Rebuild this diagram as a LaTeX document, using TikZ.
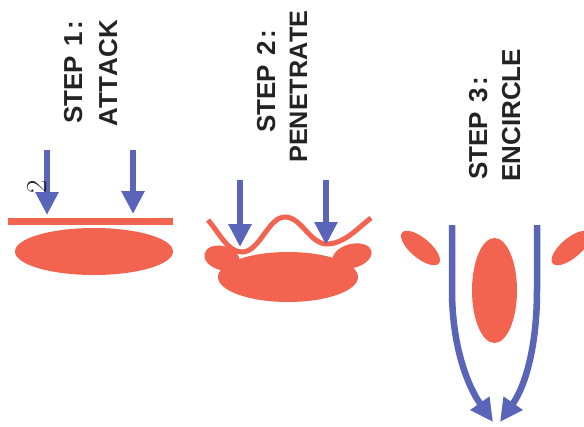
\documentclass[tikz,border=0pt]{standalone}
\usepackage{fontspec}
\setmainfont[Kerning=Off]{Liberation Sans}
\newfontfamily\handfont{Latin Modern Roman}
\usetikzlibrary{arrows.meta}
\definecolor{tissue}{RGB}{242,100,80}
\definecolor{force}{RGB}{90,100,184}
\definecolor{ink}{RGB}{35,35,35}
\newcommand{\stepword}[1]{STEP\kern2pt\ #1\kern3pt:}
\tikzset{
  lab/.style={rotate=90, anchor=base west, inner sep=0pt, text=ink,
    font=\fontsize{26}{30}\selectfont\bfseries},
  push/.style={draw=force, line width=6.5pt,
    -{Triangle[length=23pt,width=22pt]}},
  film/.style={draw=tissue, line width=6pt},
  body/.style={fill=tissue}
}
\begin{document}
\begin{tikzpicture}[x=1pt,y=-1pt]
\useasboundingbox (0,0) rectangle (584,426);
% ---------- step 1 ----------
\node[lab] (s1a) at (82,124) {\stepword{1}};
\node[lab] (s1b) at (117,127) {ATTACK};
\fill[body] (94,251.5) ellipse [x radius=79, y radius=23.5];
\coordinate (f1l) at (8,221.5);
\coordinate (f1r) at (173,221.5);
\draw[film, line width=7pt] (f1l) -- (f1r);
\coordinate (a1s) at (47,150);
\coordinate (a1e) at (47,215);
\coordinate (b1s) at (133,150);
\coordinate (b1e) at (133,214);
\draw[push] (a1s) -- (a1e);
\draw[push] (b1s) -- (b1e);
\node[rotate=90, inner sep=0pt, text=ink, font=\handfont\fontsize{29}{29}\selectfont] (two) at (37,186.5) {2};
% ---------- step 2 ----------
\node[lab] (s2a) at (275,133) {\stepword{2}};
\node[lab, font=\fontsize{25.2}{30}\selectfont\bfseries] (s2b) at (307,163) {PENETRATE};
\fill[body] (288,277) ellipse [x radius=70, y radius=25];
\fill[body, rotate around={-15:(222,258)}] (222,258) ellipse [x radius=18, y radius=12];
\fill[body, rotate around={15:(352,256)}] (352,256) ellipse [x radius=20, y radius=12];
\coordinate (w0) at (208,220);
\coordinate (w1) at (242,252);
\coordinate (w2) at (285,217);
\coordinate (w3) at (328,244);
\coordinate (w4) at (371,218);
\draw[film, line width=5pt] (w0) .. controls (220,234) and (228,252) .. (w1)
  .. controls (260,252) and (268,217) .. (w2)
  .. controls (302,217) and (310,245) .. (w3)
  .. controls (345,243) and (358,228) .. (w4);
\coordinate (a2s) at (240,180);
\coordinate (a2e) at (240,247);
\coordinate (b2s) at (326,180);
\coordinate (b2e) at (326,245);
\draw[push] (a2s) -- (a2e);
\draw[push] (b2s) -- (b2e);
% ---------- step 3 ----------
\node[lab] (s3a) at (487,180) {\stepword{3}};
\node[lab] (s3b) at (520,182) {ENCIRCLE};
\fill[body] (494.5,290.5) ellipse [x radius=22.5, y radius=52.5];
\fill[body, rotate around={-40:(420.5,248)}] (420.5,248) ellipse [x radius=24, y radius=10];
\fill[body, rotate around={40:(571,248)}] (571,248) ellipse [x radius=24, y radius=10];
\coordinate (a3s) at (452,225);
\coordinate (a3m) at (452,290);
\coordinate (a3e) at (493,422);
\coordinate (b3s) at (537,225);
\coordinate (b3m) at (537,290);
\coordinate (b3e) at (500,422);
\draw[push] (a3s) -- (a3m) .. controls (452,345) and (467,385) .. (a3e);
\draw[push] (b3s) -- (b3m) .. controls (537,345) and (526,385) .. (b3e);
\end{tikzpicture}
\end{document}
